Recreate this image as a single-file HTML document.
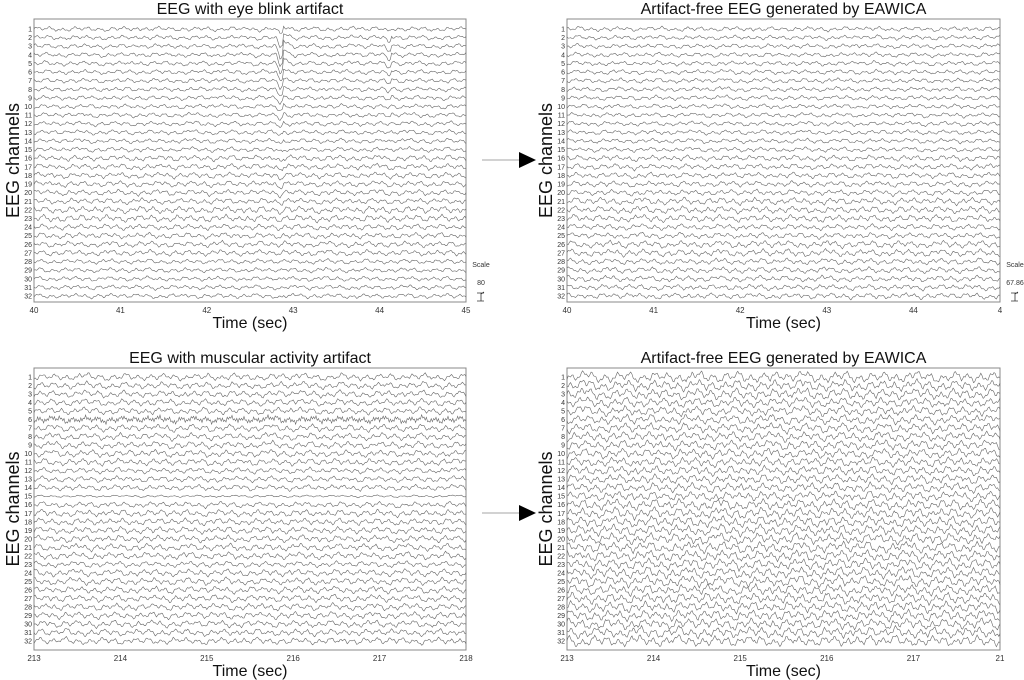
<!DOCTYPE html>
<html><head><meta charset="utf-8">
<style>
body{margin:0;background:#fff;width:1024px;height:680px;overflow:hidden;font-family:"Liberation Sans",sans-serif}
svg{display:block}
</style></head>
<body>
<svg id="chart" width="1024" height="680" viewBox="0 0 1024 680"></svg>
<script>
// ---- data ----
const channels = [1,2,3,4,5,6,7,8,9,10,11,12,13,14,15,16,17,18,19,20,21,22,23,24,25,26,27,28,29,30,31,32];
const baseWave = [0,0.6,1,0.5,-0.2,-0.8,-1,-0.4,0.3,0.9,0.7,0.1,-0.5,-0.9,-0.6,0,0.4,0.8,0.5,-0.1,-0.6,-0.7,-0.2,0.4,1,0.8,0.2,-0.4,-1,-0.7,-0.1,0.5,0.7,0.3,-0.3,-0.8,-0.5,0.1,0.6,0.9,0.4,-0.2,-0.7,-1,-0.5,0.2,0.7,0.6,0,-0.5,-0.8,-0.3,0.3,0.8,0.6,-0.1,-0.6,-0.9,-0.4,0.2,0.6,0.9,0.3,-0.3];
const ampTL = [2,2,2,2,2,2,2,2,2,2,2,2,2,2,2,2.5,2.5,2.5,2.5,2.5,2.5,3,3,2.5,2.5,2.5,2.5,2,2,2,2,2];
const ampTR = [2,2,2,2,2,2,2,2,2,2,2,2,2,2,2,2.5,2.5,2.5,2.5,2.5,3,3,3,2.5,2.5,3,3,2.5,2.5,2.5,2.5,2.5];
const ampBL = [3,3,3,3,3,2.5,3,3,3,3,3,2.5,2.5,2.5,1,2.5,3,3,3,3,3,3,2.5,3,3,3,3,3,3,3,3,3];
const ampBR = [4.5,4.5,4.5,4,4,4,4,4,4,4,4,4,4,4,4,4.5,4.5,4.5,4.5,4.5,4.5,4.5,4.5,4.5,4.5,4.5,4.5,4.5,4.5,4.5,4.5,4.5];
const blinkTimes = [42.85, 44.1];
const blinkAmp = [6,12,14,12,10,8,7,6,5,4,4,3,3,3,2,2,2,2,2,1.5,1.5,1.5,1,1,1,1,1,1,1,1,1,1];
const ticksTop = [40,41,42,43,44,45];
const ticksTopR = ["40","41","42","43","44","4"];
const ticksBot = [213,214,215,216,217,218];
const ticksBotR = ["213","214","215","216","217","21"];
const panels = [
 {name:"blink-raw",title:"EEG with eye blink artifact",x0:34,x1:466,y0:19,y1:302,c1:29,c32:296,t0:40,t1:45,ticks:ticksTop,tl:ticksTop,amp:ampTL,blink:true,scale:"80"},
 {name:"blink-clean",title:"Artifact-free EEG generated by EAWICA",x0:567,x1:1000,y0:19,y1:302,c1:29,c32:296,t0:40,t1:45,ticks:ticksTop,tl:ticksTopR,amp:ampTR,scale:"67.86"},
 {name:"muscle-raw",title:"EEG with muscular activity artifact",x0:34,x1:466,y0:368,y1:650,c1:377,c32:641,t0:213,t1:218,ticks:ticksBot,tl:ticksBot,amp:ampBL,muscle:true},
 {name:"muscle-clean",title:"Artifact-free EEG generated by EAWICA",x0:567,x1:1000,y0:368,y1:650,c1:377,c32:641,t0:213,t1:218,ticks:ticksBot,tl:ticksBotR,amp:ampBR}
];
const svg=document.getElementById('chart');
const NS='http://www.w3.org/2000/svg';
function mk(tag,attrs,parent){const e=document.createElementNS(NS,tag);for(const k in attrs)e.setAttribute(k,attrs[k]);(parent||svg).appendChild(e);return e;}
function bw(p){const n=baseWave.length;const i=Math.floor(p),f=p-i;const a=baseWave[((i%n)+n)%n],b=baseWave[(((i+1)%n)+n)%n];return a+(b-a)*f;}
panels.forEach((P,pi)=>{
  const g=mk('g',{});
  
  
  const xs=t=>P.x0+(t-P.t0)/(P.t1-P.t0)*(P.x1-P.x0);
  const ys=c=>P.c1+(c-1)*(P.c32-P.c1)/31;
  const r=mk('rect',{x:P.x0,y:P.y0,width:P.x1-P.x0,height:P.y1-P.y0,fill:'none',stroke:'#888','stroke-width':1},g);
  
  const tt=mk('text',{x:(P.x0+P.x1)/2,y:P.y0-5,'text-anchor':'middle','font-size':16,fill:'#111'},g);tt.textContent=P.title;
  
  P.ticks.forEach((t,i)=>{const e=mk('text',{x:xs(t),y:P.y1+11,'text-anchor':'middle','font-size':8,fill:'#333'},g);e.textContent=P.tl[i];
    });
  const xl=mk('text',{x:(P.x0+P.x1)/2,y:P.y1+26,'text-anchor':'middle','font-size':16,fill:'#111'},g);xl.textContent='Time (sec)';
  
  const yl=mk('text',{x:0,y:0,'text-anchor':'middle','font-size':18,fill:'#111',transform:`translate(${P.x0-15},${(P.y0+P.y1)/2}) rotate(-90)`},g);yl.textContent='EEG channels';
  
  channels.forEach((c,ci)=>{
    const lb=mk('text',{x:P.x0-2,y:ys(c)+2.5,'text-anchor':'end','font-size':7,fill:'#333'},g);lb.textContent=c;
    
    const N=360;let pts=[];
    const grp=Math.floor(ci/5);
    for(let i=0;i<=N;i++){
      const t=P.t0+(P.t1-P.t0)*i/N;
      let v=P.amp[ci]*(0.8*bw(i*0.71+grp*13+pi*17+ci*0.7)+0.45*bw(i*1.93+ci*11)+0.5*bw(i*0.23+grp*29+pi*7));
      if(P.blink){blinkTimes.forEach((bt,k)=>{const d=(t-bt)/0.05;v+=(k?0.4:1)*blinkAmp[ci]*(d>-1&&d<3?(d<0?-(d+1):Math.exp(-d)*(d<0.5?-1:1)):0);});}
      if(P.muscle&&c===6)v+=(i%2?1.3:-1.3);
      pts.push(xs(t).toFixed(1)+','+(ys(c)-v).toFixed(1));
    }
    const pl=mk('polyline',{points:pts.join(' '),fill:'none',stroke:'#666','stroke-width':0.6},g);
    
  });
  if(P.scale){
    const sx=P.x1+15;
    const s1=mk('text',{x:sx,y:267,'text-anchor':'middle','font-size':7,fill:'#333'},g);s1.textContent='Scale';
    
    const s2=mk('text',{x:sx,y:285,'text-anchor':'middle','font-size':7,fill:'#333'},g);s2.textContent=P.scale;
    
    mk('path',{d:`M${sx-4},293 h7 M${sx},293 v8 M${sx-4},301 h7 M${sx},294 l3,-2`,stroke:'#333','stroke-width':0.8,fill:'none'},g);
  }
});
[160,513].forEach(y=>{
  const a=mk('g',{});
  mk('line',{x1:482,y1:y,x2:522,y2:y,stroke:'#888','stroke-width':0.8},a);
  mk('polygon',{points:`519,${y-8} 536,${y} 519,${y+8}`,fill:'#000'},a);
});
</script>
</body></html>
